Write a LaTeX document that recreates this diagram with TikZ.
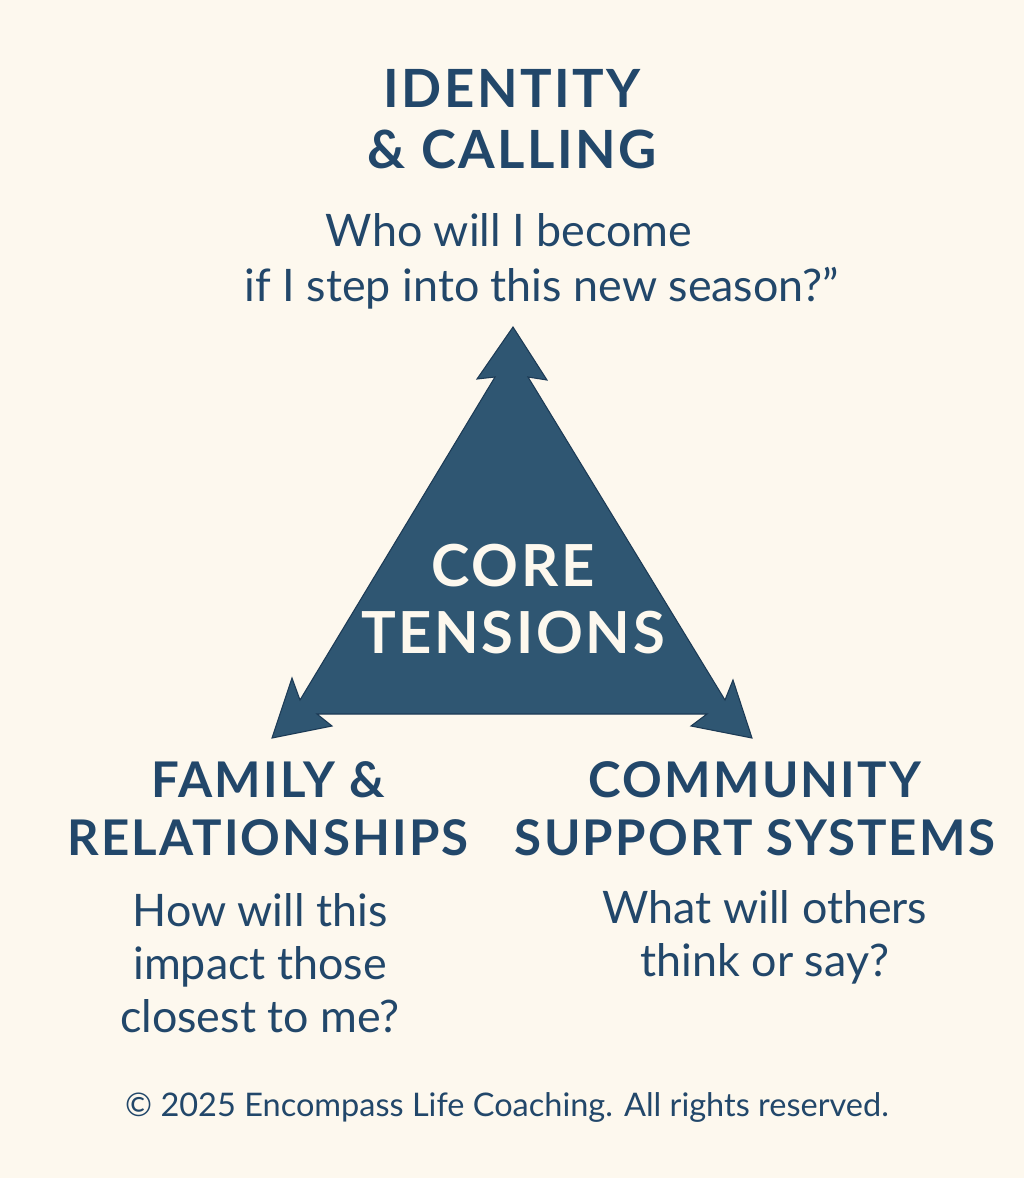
\documentclass[tikz,border=0pt]{standalone}
\usepackage{fontspec}
\setmainfont{Lato}
\newfontfamily\headfont[LetterSpace=4.5]{Lato}
\usetikzlibrary{positioning}
\definecolor{cream}{HTML}{FDF8EE}
\definecolor{navy}{HTML}{22476A}
\definecolor{steel}{HTML}{2F5672}
\definecolor{steeldark}{HTML}{1C3A55}
\tikzset{
  % Headings
  heading/.style={text=navy, font=\headfont\bfseries\fontsize{30}{35}\selectfont,
    align=center, inner sep=0pt},
  subheading/.style={text=navy, font=\headfont\bfseries\fontsize{28}{33}\selectfont,
    align=center, inner sep=0pt},
  % Questions
  question/.style={text=navy, font=\fontsize{25.5}{30}\selectfont,
    align=center, inner sep=0pt},
  % Centre label
  corelabel/.style={text=cream, font=\headfont\bfseries\fontsize{33}{38.5}\selectfont,
    align=center, inner sep=0pt},
  footer/.style={text=navy, font=\fontsize{18.5}{20}\selectfont, inner sep=0pt},
}
\begin{document}
\begin{tikzpicture}[x=0.02cm, y=-0.02cm]

  % Background
  \fill[cream] (0,0) rectangle (1024,1178);
  \useasboundingbox (0,0) rectangle (1024,1178);

  % Triangle with arrow tips
  \filldraw[fill=steel, draw=steeldark, line width=0.6pt, line join=miter]
    (513,327) -- (547,380) -- (528,377) -- (725,700) -- (733,680) -- (752,738)
    -- (691,726) -- (707,714) -- (317,714) -- (332,726) -- (272,738)
    -- (292,678) -- (300,700) -- (495,377) -- (477,379) -- cycle;

  % Centre
  \node[corelabel] (core) at (513,599) {CORE\\TENSIONS};

  % Top
  \node[heading] (identity) at (512,119) {IDENTITY\\\& CALLING};
  \node[question] (whoq) at (509,230) {Who will I become};
  \node[question] (ifq) at (542,288) {if I step into this new season?”};

  % Bottom left
  \node[subheading] (family) at (268,809) {FAMILY \&\\RELATIONSHIPS};
  \node[question] (howq) at (260,963) {How will this\\impact those\\closest to me?};

  % Bottom right
  \node[subheading] (community) at (755,809) {COMMUNITY\\SUPPORT SYSTEMS};
  \node[question] (whatq) at (765,937) {What will others\\think or say?};

  % Footer
  \node[footer] (copyright) at (507,1107) {© 2025 Encompass Life Coaching. All rights reserved.};

\end{tikzpicture}
\end{document}
